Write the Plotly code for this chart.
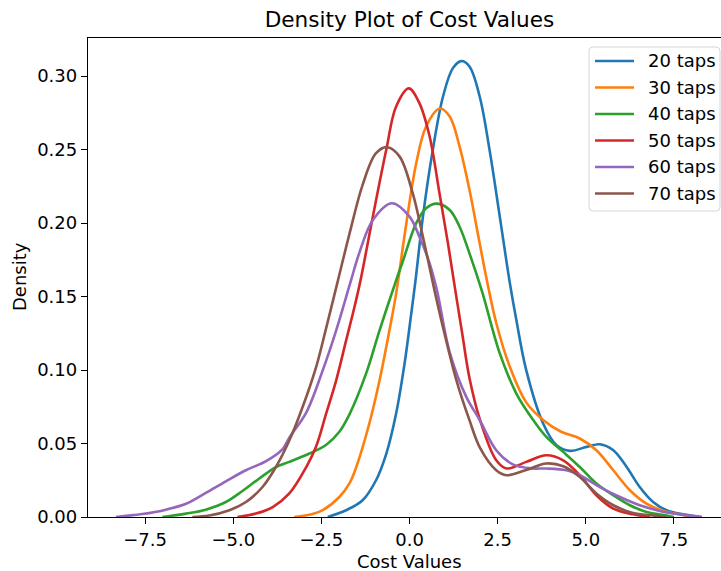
import plotly.graph_objects as go

# Kernel density curves of cost values, one per filter length
labels = ["20 taps", "30 taps", "40 taps", "50 taps", "60 taps", "70 taps"]
colors = ["#1f77b4", "#ff7f0e", "#2ca02c", "#d62728", "#9467bd", "#8c564b"]

x_20 = [-2.32, -1.80, -1.33, -0.95, -0.66, -0.38, -0.14, 0.05, 0.17, 0.38, 0.66, 0.95, 1.23, 1.47,
        1.70, 1.99, 2.27, 2.56, 2.84, 3.03, 3.31, 3.79, 4.17, 4.55, 5.02, 5.40, 5.78, 6.16,
        6.53, 6.91, 7.29, 7.76, 8.29]
y_20 = [0.0, 0.0046, 0.0114, 0.025, 0.043, 0.0704, 0.1045, 0.1386, 0.161, 0.2044, 0.2498, 0.2861,
        0.3054, 0.3102, 0.3065, 0.2861, 0.2498, 0.2044, 0.160, 0.134, 0.0999, 0.0636,
        0.0488, 0.045, 0.0477, 0.0495, 0.0454, 0.034, 0.0204, 0.0102, 0.0046, 0.0018, 0.0]

x_30 = [-3.27, -2.75, -2.46, -1.99, -1.70, -1.51, -1.14, -0.85, -0.57, -0.38, -0.09, 0.19, 0.47,
        0.86, 1.14, 1.42, 1.70, 1.99, 2.22, 2.46, 2.84, 3.31, 3.79, 4.30, 4.83, 5.30, 5.78, 6.25,
        6.72, 7.20, 7.67, 8.05]
y_30 = [0.0, 0.002, 0.0046, 0.0136, 0.023, 0.034, 0.0636, 0.093, 0.127, 0.152, 0.1999, 0.2407,
        0.2657, 0.2779, 0.2725, 0.252, 0.2226, 0.1862, 0.158, 0.132, 0.1025, 0.078, 0.066, 0.058,
        0.0534, 0.0454, 0.0318, 0.0182, 0.0091, 0.0041, 0.0018, 0.0]

x_40 = [-7.01, -6.34, -5.78, -5.21, -4.74, -4.26, -3.79, -3.41, -2.84, -2.37, -1.99, -1.70, -1.23,
        -0.85, -0.38, -0.19, 0.19, 0.47, 0.78, 1.14, 1.42, 1.70, 2.05, 2.56, 3.03, 3.45, 3.88, 4.36,
        4.83, 5.30, 5.78, 6.25, 6.72, 7.29, 7.50]
y_40 = [0.0, 0.0023, 0.005, 0.0102, 0.0177, 0.0262, 0.034, 0.0375, 0.0432, 0.049, 0.058, 0.070,
        0.0977, 0.127, 0.161, 0.174, 0.1999, 0.2101, 0.2132, 0.2089, 0.1975, 0.1794, 0.154,
        0.1113, 0.084, 0.068, 0.0545, 0.0443, 0.034, 0.0228, 0.0148, 0.008, 0.0034, 0.001, 0.0]

x_50 = [-4.88, -4.36, -3.88, -3.41, -2.93, -2.65, -2.37, -2.08, -1.80, -1.56, -1.39, -1.04, -0.66,
        -0.38, -0.02, 0.28, 0.57, 0.85, 1.09, 1.30, 1.50, 1.70, 2.00, 2.46, 2.75, 3.31, 3.88, 4.36,
        4.83, 5.30, 5.78, 6.34, 6.82]
y_50 = [0.0, 0.0023, 0.0068, 0.016, 0.034, 0.048, 0.070, 0.093, 0.120, 0.143, 0.161, 0.2044,
        0.2498, 0.2793, 0.2916, 0.2816, 0.2589, 0.2203, 0.1862, 0.154, 0.124, 0.0946, 0.066,
        0.0386, 0.033, 0.0375, 0.042, 0.0386, 0.0284, 0.0148, 0.0057, 0.0018, 0.0]

x_60 = [-8.33, -7.58, -6.91, -6.34, -5.78, -5.21, -4.64, -4.07, -3.60, -3.41, -2.93, -2.46, -2.08,
        -1.66, -1.42, -1.04, -0.50, 0.0, 0.28, 0.57, 0.78, 1.14, 1.61, 1.99, 2.46, 2.93, 3.50, 3.88,
        4.45, 4.83, 5.40, 5.97, 6.53, 7.10, 7.67, 8.27]
y_60 = [0.0, 0.002, 0.005, 0.009, 0.0164, 0.0243, 0.0318, 0.038, 0.0462, 0.054, 0.071, 0.0999,
        0.127, 0.161, 0.180, 0.2021, 0.2135, 0.2044, 0.1907, 0.1726, 0.154, 0.112, 0.0817, 0.066,
        0.0454, 0.0358, 0.033, 0.033, 0.0318, 0.0284, 0.0204, 0.0136, 0.008, 0.0041, 0.0018, 0.0]

x_70 = [-6.16, -5.68, -5.11, -4.64, -4.17, -3.79, -3.41, -3.03, -2.65, -2.37, -2.04, -1.70, -1.33,
        -0.95, -0.63, -0.28, 0.09, 0.38, 0.71, 0.95, 1.33, 1.70, 2.00, 2.46, 2.75, 3.31, 3.88, 4.36,
        4.83, 5.30, 5.78, 6.34, 6.91, 7.29]
y_70 = [0.0, 0.001, 0.0046, 0.0102, 0.0204, 0.034, 0.052, 0.075, 0.102, 0.128, 0.160, 0.193,
        0.226, 0.2475, 0.2516, 0.2452, 0.2203, 0.1907, 0.154, 0.129, 0.093, 0.0659, 0.047, 0.0318,
        0.0284, 0.032, 0.0364, 0.0345, 0.0272, 0.016, 0.008, 0.0027, 0.001, 0.0]

series_x = [x_20, x_30, x_40, x_50, x_60, x_70]
series_y = [y_20, y_30, y_40, y_50, y_60, y_70]

x_ticks = [-7.5, -5.0, -2.5, 0.0, 2.5, 5.0, 7.5]
y_ticks = [0.00, 0.05, 0.10, 0.15, 0.20, 0.25, 0.30]

W, H = 721, 571
ML, MR, MT, MB = 88, 0, 38, 54
FONT = "DejaVu Sans"
FS = 18

fig = go.Figure()
for xs, ys, name, col in zip(series_x, series_y, labels, colors):
    fig.add_trace(go.Scatter(x=xs, y=ys, mode="lines", name=name,
                             line=dict(color=col, width=2.6, shape="spline", smoothing=1.0),
                             showlegend=False))

axis_common = dict(showgrid=False, zeroline=False, showline=True, linecolor="black",
                   linewidth=1.3, ticks="outside", ticklen=6, tickwidth=1.3, tickcolor="black",
                   tickfont=dict(family=FONT, size=FS, color="black"))

fig.update_xaxes(range=[-9.12, 8.835], tickvals=x_ticks, tickformat=".1f", mirror=True,
                 **axis_common)
fig.update_yaxes(range=[0, 0.3259], tickvals=y_ticks, tickformat=".2f", mirror=False,
                 **axis_common)

plot_w = W - ML - MR
plot_h = H - MT - MB


def px_x(px):
    return (px - ML) / plot_w


def px_y(py):
    return (H - MB - py) / plot_h


# Legend box (rounded corners) drawn in paper coordinates
bx0, bx1, by0, by1, r = 589, 720, 47, 211, 4
path = (f"M {px_x(bx0 + r)},{px_y(by0)} L {px_x(bx1 - r)},{px_y(by0)} "
        f"Q {px_x(bx1)},{px_y(by0)} {px_x(bx1)},{px_y(by0 + r)} "
        f"L {px_x(bx1)},{px_y(by1 - r)} Q {px_x(bx1)},{px_y(by1)} {px_x(bx1 - r)},{px_y(by1)} "
        f"L {px_x(bx0 + r)},{px_y(by1)} Q {px_x(bx0)},{px_y(by1)} {px_x(bx0)},{px_y(by1 - r)} "
        f"L {px_x(bx0)},{px_y(by0 + r)} Q {px_x(bx0)},{px_y(by0)} {px_x(bx0 + r)},{px_y(by0)} Z")
shapes = [dict(type="path", path=path, xref="paper", yref="paper",
               fillcolor="rgba(255,255,255,0.8)", line=dict(color="#d6d6d6", width=1))]
annotations = []
row_y = [61, 87.5, 114, 140.5, 167, 193.5]
for yy, name, col in zip(row_y, labels, colors):
    shapes.append(dict(type="line", xref="paper", yref="paper",
                       x0=px_x(595), x1=px_x(634), y0=px_y(yy), y1=px_y(yy),
                       line=dict(color=col, width=2.6)))
    annotations.append(dict(text=name, xref="paper", yref="paper", x=px_x(646), y=px_y(yy),
                            xanchor="left", yanchor="middle", showarrow=False,
                            font=dict(family=FONT, size=FS, color="black")))

# Axis titles
annotations.append(dict(text="Cost Values", xref="paper", yref="paper", x=px_x(409.5),
                        y=px_y(561), xanchor="center", yanchor="middle", showarrow=False,
                        font=dict(family=FONT, size=FS, color="black")))
annotations.append(dict(text="Density", xref="paper", yref="paper", x=px_x(19), y=px_y(277),
                        xanchor="center", yanchor="middle", textangle=-90, showarrow=False,
                        font=dict(family=FONT, size=FS, color="black")))

fig.update_layout(
    width=W, height=H,
    margin=dict(l=ML, r=MR, t=MT, b=MB),
    paper_bgcolor="white", plot_bgcolor="white",
    title=dict(text="Density Plot of Cost Values", xref="paper", x=px_x(409.5),
               xanchor="center", yref="container", y=1 - 19 / H, yanchor="middle",
               font=dict(family=FONT, size=21.6, color="black")),
    shapes=shapes, annotations=annotations, showlegend=False,
)

fig.write_html("out.html")
